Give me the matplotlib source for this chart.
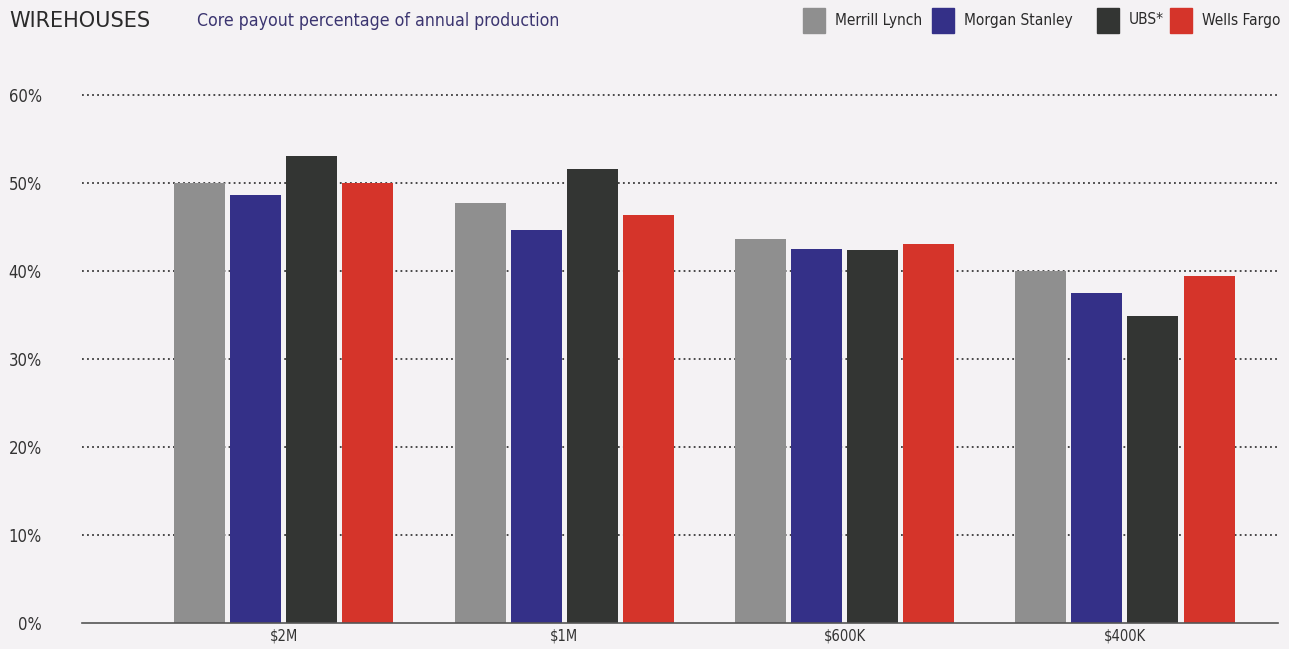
import matplotlib.pyplot as plt
import numpy as np
from matplotlib.patches import Rectangle

categories = ["$2M", "$1M", "$600K", "$400K"]
firms = ["Merrill Lynch", "Morgan Stanley", "UBS*", "Wells Fargo"]
merrill = [50.0, 47.7, 43.6, 40.0]
morgan = [48.6, 44.7, 42.5, 37.5]
ubs = [53.1, 51.6, 42.4, 34.9]
wells = [50.0, 46.4, 43.1, 39.4]
yticks = [0, 10, 20, 30, 40, 50, 60]

colors = ["#8f8f8f", "#343088", "#333533", "#d5342a"]
bg = "#f4f2f4"
FONT = dict(family="DejaVu Sans", stretch="condensed")

W, H = 1289, 649
fig = plt.figure(figsize=(W / 100, H / 100), dpi=100, facecolor=bg)
ax = fig.add_axes([82 / W, 1 - 623 / H, (1278 - 82) / W, (623 - 95) / H * 62 / 60])
ax.set_facecolor(bg)

x = np.arange(len(categories))
series = [merrill, morgan, ubs, wells]
offsets = [-0.3, -0.1, 0.1, 0.3]
for vals, off, c in zip(series, offsets, colors):
    ax.bar(x + off, vals, width=0.182, color=c, zorder=3)

ax.set_xlim(-0.72, 3.546)
ax.set_ylim(0, 62)

# dotted gridlines
for t in yticks[1:]:
    ax.axhline(t, color="#3a3a3a", linestyle=(0, (1, 1.8)), linewidth=1.3, zorder=1)

for s in ["top", "right", "left"]:
    ax.spines[s].set_visible(False)
ax.spines["bottom"].set_color("#555555")
ax.spines["bottom"].set_linewidth(1.2)
ax.spines["bottom"].set_zorder(4)

ax.set_yticks(yticks)
ax.set_yticklabels([f"{t}%" for t in yticks], color="#333333", fontsize=12, **FONT)
ax.tick_params(axis="y", length=0, pad=29)
ax.set_xticks(x)
ax.set_xticklabels(categories, color="#333333", fontsize=10.5, **FONT)
ax.tick_params(axis="x", length=0, pad=4)

# title
fig.text(9 / W, 1 - 21 / H, "WIREHOUSES", fontsize=15, color="#2a2a2a",
         va="center", ha="left", family="DejaVu Sans")
fig.text(197 / W, 1 - 21 / H, "Core payout percentage of annual production",
         fontsize=12.7, color="#3b3570", va="center", ha="left", **FONT)

# legend
legend_x = [803, 932, 1097, 1170]
for lx, c, name in zip(legend_x, colors, firms):
    fig.patches.append(Rectangle((lx / W, 1 - 33 / H), 22 / W, 25 / H,
                                 transform=fig.transFigure, color=c))
    fig.text((lx + 32) / W, 1 - 20 / H, name, fontsize=11.1, color="#2a2a2a",
             va="center", ha="left", **FONT)

fig.savefig("out.png", dpi=100, facecolor=bg)
